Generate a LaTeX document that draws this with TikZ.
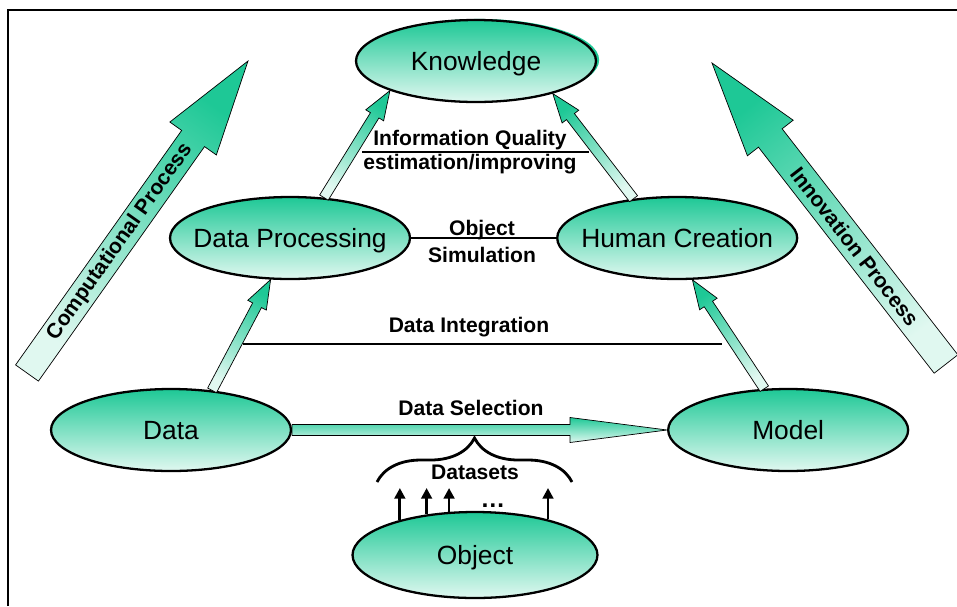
\documentclass[tikz,border=0pt]{standalone}
\usepackage{fontspec}
\setmainfont{Liberation Sans}
\usetikzlibrary{arrows.meta, positioning, calc, shapes.geometric, shadows, decorations.pathreplacing}

\definecolor{mint}{HTML}{1EC896}
\definecolor{mintpale}{HTML}{E0F8F0}

% fat shaded arrow: from, to, half shaft, half head, head length, shading angle
\newcommand{\fatarrow}[6]{%
	\coordinate (fa-h) at ($(#2)!#5!(#1)$);
	\draw[fat, shading angle=#6] ($(#1)!#3!90:(#2)$) -- ($(fa-h)!#3!90:(#2)$) -- ($(fa-h)!#4!90:(#2)$) -- (#2) -- ($(fa-h)!#4!-90:(#2)$) -- ($(fa-h)!#3!-90:(#2)$) -- ($(#1)!#3!-90:(#2)$) -- cycle;
}

\begin{document}
\begin{tikzpicture}[x=0.02cm, y=-0.02cm, state/.style={ellipse, draw, line width=1.3pt, top color=mint, bottom color=mintpale, minimum width=4.8cm, minimum height=1.64cm, inner sep=0pt, text height=10.8pt, text depth=0pt, font=\fontsize{15}{18}\selectfont, execute at begin node={\hbox to 0pt\bgroup\hss}, execute at end node={\hss\egroup}}, lbl/.style={font=\bfseries\fontsize{12}{14}\selectfont, inner sep=0pt}, fat/.style={draw=black, line width=0.4pt, top color=mint, bottom color=mintpale}, rule/.style={line width=1.4pt}, brace/.style={decorate, decoration={brace, amplitude=0.88cm}, line width=1.6pt}, >={Triangle[length=6pt, width=6pt]}]
	\useasboundingbox (0,0) rectangle (957,606);

	% Frame
	\draw[line width=1pt] (8,606) -- (8,10) -- (957,10);

	% Nodes
	\node[state, drop shadow={shadow xshift=1.8pt, shadow yshift=0.6pt, fill=mint, opacity=1}] (know) at (476,61) {Knowledge};
	\node[state] (dp) at (290,238) {Data Processing};
	\node[state, right=2.9cm of dp] (hc) {Human Creation};
	\node[state] (data) at (171,430) {Data};
	\node[state, right=7.5cm of data] (model) {Model};
	\node[state, minimum width=4.9cm, minimum height=1.72cm] (obj) at (475,555) {Object};

	% Process arrows
	\coordinate (cp-tail) at (27,373);
	\coordinate (cp-tip) at (248,61);
	\fatarrow{cp-tail}{cp-tip}{0.28cm}{0.57cm}{1.9cm}{-35}
	\path (cp-tail) -- (cp-tip) node[lbl, sloped, pos=0.42] {Computational Process};
	\coordinate (ip-tail) at (946,364);
	\coordinate (ip-tip) at (712,63);
	\fatarrow{ip-tail}{ip-tip}{0.3cm}{0.58cm}{1.9cm}{38}
	\path (ip-tail) -- (ip-tip) node[lbl, sloped, pos=0.39] {Innovation Process};

	% Arrows between stages
	\fatarrow{data.44}{dp.245}{0.1cm}{0.21cm}{0.58cm}{-28}
	\fatarrow{model.120}{hc.290}{0.1cm}{0.21cm}{0.58cm}{34}
	\fatarrow{dp.50}{know.199}{0.1cm}{0.21cm}{0.58cm}{-32}
	\fatarrow{hc.138}{know.337}{0.1cm}{0.21cm}{0.58cm}{36}
	\fatarrow{data.east}{model.west}{0.11cm}{0.25cm}{1.94cm}{0}

	% Labels and rules
	\node[lbl] (iq) at (470,140) {Information Quality};
	\node[lbl] (est) at (470,164) {estimation/improving};
	\draw[rule] (362,152) -- (589,152);
	\draw[rule] (dp) -- (hc);
	\node[lbl] (os1) at (482,230) {Object};
	\node[lbl] (os2) at (482,255) {Simulation};
	\node[lbl] (di) at (469,327) {Data Integration};
	\draw[rule] (243,344) -- (722,344);
	\node[lbl] (ds) at (471,408) {Data Selection};

	% Datasets
	\draw[brace] (377,482) -- (572,482);
	\node[lbl] (sets) at (475,472) {Datasets};
	\coordinate (tops) at (0,488);
	\foreach \a in {155,140,121,26}
		\draw[->, line width=1.6pt] (obj.\a) -- (obj.\a |- tops);
	\node[font=\bfseries\fontsize{14}{16}\selectfont] (dots) at (493,506) {…};
\end{tikzpicture}
\end{document}
